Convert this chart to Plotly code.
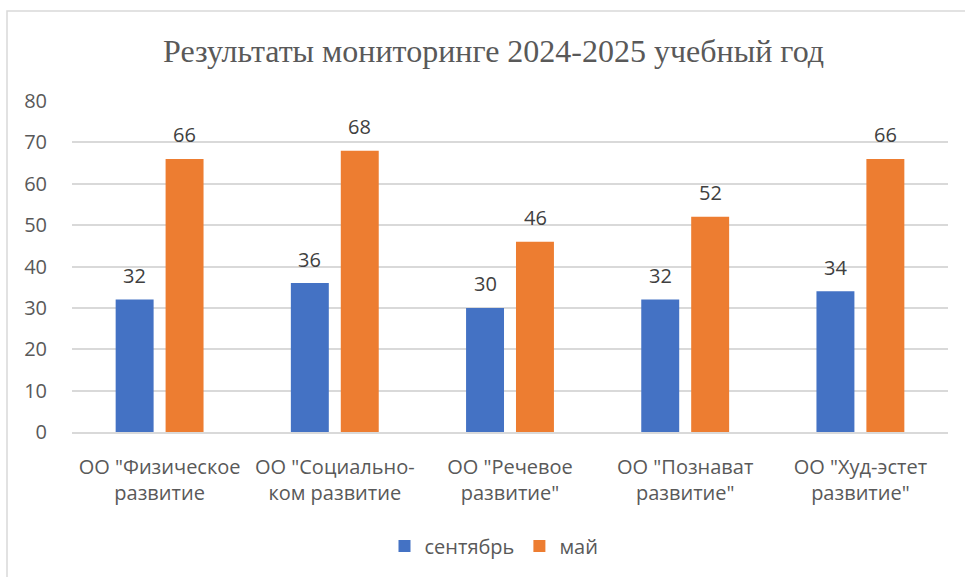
import plotly.graph_objects as go

categories = ['ОО "Физическое<br>развитие', 'ОО "Социально-<br>ком развитие', 'ОО "Речевое<br>развитие"',
              'ОО "Познават<br>развитие"', 'ОО "Худ-эстет<br>развитие"']
september = [32, 36, 30, 32, 34]
may = [66, 68, 46, 52, 66]
series_names = ["сентябрь", "май"]
tick_vals = [0, 10, 20, 30, 40, 50, 60, 70, 80]

W, H = 965, 577
L, R, T, B = 72, 17, 101, 145
pw, ph = W - L - R, H - T - B
SANS = "Open Sans, Liberation Sans, Arial"
FS = 20
colors = ["#4472C4", "#ED7D31"]

fig = go.Figure()
for name, vals, col in [(series_names[0], september, colors[0]), (series_names[1], may, colors[1])]:
    fig.add_trace(go.Bar(x=categories, y=vals, name=name, marker=dict(color=col, line=dict(width=0))))

annotations = []
for vals, xs in [(september, -25), (may, 25)]:
    for c, v in zip(categories, vals):
        annotations.append(dict(x=c, y=v, xref="x", yref="y", text=str(v), showarrow=False,
                                xshift=xs, yshift=24, yanchor="middle",
                                font=dict(family=SANS, size=FS, color="#404040")))

fig.update_layout(
    width=W, height=H,
    margin=dict(l=L, r=R, t=T, b=B, autoexpand=False),
    paper_bgcolor="white", plot_bgcolor="white",
    barmode="group", bargap=0.43, bargroupgap=0.24,
    title=dict(text="Результаты мониторинге 2024-2025 учебный год",
               font=dict(family="Liberation Serif, Times New Roman", size=32, color="#595959"),
               x=(W / 2 + 11) / W, xanchor="center", y=1 - 51 / H, yanchor="middle"),
    font=dict(family=SANS, size=FS, color="#595959"),
    legend=dict(orientation="h", x=0.5 - 16 / pw, xanchor="center", y=-(546 - 432) / ph, yanchor="middle",
                font=dict(family=SANS, size=FS, color="#595959"), traceorder="normal", itemwidth=30),
    showlegend=True,
    annotations=annotations,
    shapes=[dict(type="rect", xref="paper", yref="paper",
                 x0=(7 - L) / pw, x1=(W + 20 - L) / pw,
                 y0=-(H + 20 - T - ph) / ph, y1=(T + ph - 11) / ph,
                 line=dict(color="#D9D9D9", width=1.5), fillcolor="rgba(0,0,0,0)", layer="below")],
)
fig.update_yaxes(range=[0, 80], tickvals=tick_vals, showgrid=True, gridcolor="#D9D9D9", gridwidth=1.5,
                 zeroline=False, showline=False, ticks="", ticklabelstandoff=24, automargin=False,
                 tickfont=dict(family=SANS, size=FS, color="#595959"))
fig.update_xaxes(showline=True, linecolor="#D9D9D9", linewidth=1.5, ticks="", ticklabelstandoff=16,
                 automargin=False, tickfont=dict(family=SANS, size=FS, color="#595959"), tickangle=0)

fig.write_html("out.html", config={"displayModeBar": False},
               post_script="document.body.style.margin='0px';document.body.style.overflow='hidden';")
